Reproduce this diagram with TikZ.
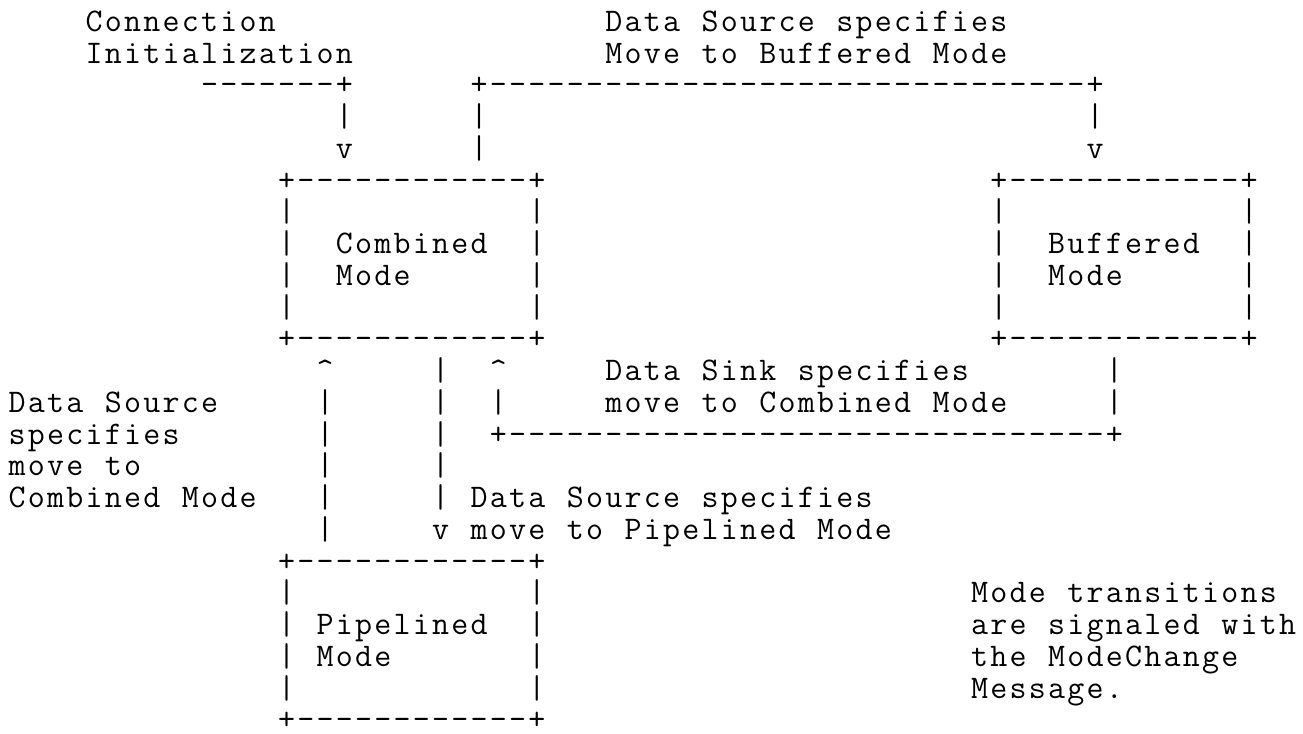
\documentclass[tikz,border=0pt]{standalone}

% Typeset a string on a fixed character grid: every character,
% space included, gets its own cell of the same width.
\ExplSyntaxOn
\NewDocumentCommand\mono{m}
  { \str_map_inline:nn {#1} { \makebox[19.25bp][c]{##1} } }
\ExplSyntaxOff

\tikzset{
  asc/.style={anchor=base west, inner sep=0pt, outer sep=0pt,
    font=\ttfamily\fontsize{33bp}{31.75bp}\selectfont},
}

\begin{document}
\begin{tikzpicture}[x=19.25bp, y=-31.75bp]
\useasboundingbox (0bp,0bp) rectangle (1303bp,-734bp);
\fill[white] (0bp,0bp) rectangle (1303bp,-734bp);

% (column, row) grid: column = character cell, row = text line
\begin{scope}[shift={(7.575bp,-31.4bp)}]

% --- headings of the two upper transitions
\node[asc] (initA) at (4,0)  {\mono{Connection}};
\node[asc] (initB) at (4,1)  {\mono{Initialization}};
\node[asc] (bufA)  at (31,0) {\mono{Data Source specifies}};
\node[asc] (bufB)  at (31,1) {\mono{Move to Buffered Mode}};

% --- lines into the upper boxes
\node[asc] (initL) at (10,2) {\mono{-------+}};
\node[asc] (bufL)  at (24,2) {\mono{+-------------------------------+}};
\node[asc] (initV1) at (17,3) {\mono{|}};
\node[asc] (initV2) at (17,4) {\mono{v}};
\node[asc] (bufV1) at (24,3) {\mono{|}};
\node[asc] (bufV2) at (24,4) {\mono{|}};
\node[asc] (bufV3) at (56,3) {\mono{|}};
\node[asc] (bufV4) at (56,4) {\mono{v}};

% --- Combined Mode and Buffered Mode boxes
\node[asc] (combT) at (14,5)  {\mono{+------------+}};
\node[asc] (bufrT) at (51,5)  {\mono{+------------+}};
\foreach \r in {6,...,9} {
  \node[asc] (combL\r) at (14,\r) {\mono{|}};
  \node[asc] (combR\r) at (27,\r) {\mono{|}};
  \node[asc] (bufrL\r) at (51,\r) {\mono{|}};
  \node[asc] (bufrR\r) at (64,\r) {\mono{|}};
}
\node[asc] (combA) at (17,7) {\mono{Combined}};
\node[asc] (combB) at (17,8) {\mono{Mode}};
\node[asc] (bufrA) at (54,7) {\mono{Buffered}};
\node[asc] (bufrB) at (54,8) {\mono{Mode}};
\node[asc] (combD) at (14,10) {\mono{+------------+}};
\node[asc] (bufrD) at (51,10) {\mono{+------------+}};

% --- Buffered back to Combined
\node[asc] (sinkUp1) at (25,11) {\mono{^}};
\node[asc] (sinkUp2) at (25,12) {\mono{|}};
\node[asc] (sinkL)   at (25,13) {\mono{+-------------------------------+}};
\node[asc] (sinkR1)  at (57,11) {\mono{|}};
\node[asc] (sinkR2)  at (57,12) {\mono{|}};
\node[asc] (sinkA)   at (31,11) {\mono{Data Sink specifies}};
\node[asc] (sinkB)   at (31,12) {\mono{move to Combined Mode}};

% --- Pipelined back to Combined
\node[asc] (pcUp) at (16,11) {\mono{^}};
\foreach \r in {12,...,16} {
  \node[asc] (pcV\r) at (16,\r) {\mono{|}};
}
\node[asc] (pcA) at (0,12) {\mono{Data Source}};
\node[asc] (pcB) at (0,13) {\mono{specifies}};
\node[asc] (pcC) at (0,14) {\mono{move to}};
\node[asc] (pcD) at (0,15) {\mono{Combined Mode}};

% --- Combined to Pipelined
\foreach \r in {11,...,14} {
  \node[asc] (cpV\r) at (22,\r) {\mono{|}};
}
\node[asc] (cpA) at (22,15) {\mono{| Data Source specifies}};
\node[asc] (cpB) at (22,16) {\mono{v move to Pipelined Mode}};

% --- Pipelined Mode box
\node[asc] (pipeT) at (14,17) {\mono{+------------+}};
\foreach \r in {18,...,21} {
  \node[asc] (pipeL\r) at (14,\r) {\mono{|}};
  \node[asc] (pipeR\r) at (27,\r) {\mono{|}};
}
\node[asc] (pipeA) at (16,19) {\mono{Pipelined}};
\node[asc] (pipeB) at (16,20) {\mono{Mode}};
\node[asc] (pipeD) at (14,22) {\mono{+------------+}};

% --- note
\node[asc] (noteA) at (50,18) {\mono{Mode transitions}};
\node[asc] (noteB) at (50,19) {\mono{are signaled with}};
\node[asc] (noteC) at (50,20) {\mono{the ModeChange}};
\node[asc] (noteD) at (50,21) {\mono{Message.}};

\end{scope}
\end{tikzpicture}
\end{document}
